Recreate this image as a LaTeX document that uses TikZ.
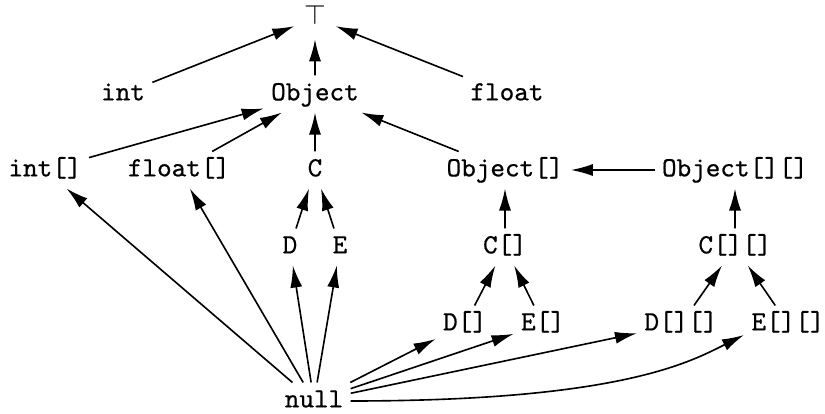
\documentclass[tikz,border=0pt]{standalone}
\usepackage{fontspec}
\usepackage{tikz}
\usetikzlibrary{arrows.meta}
\newfontfamily\codefont{Latin Modern Mono}[FakeBold=0.6]

\begin{document}
\begin{tikzpicture}[x=0.01517cm, y=-0.01517cm,
	every node/.style={font=\fontsize{10}{12}\selectfont\codefont, scale=1.2, text height=6.25pt, text depth=1.67pt, inner sep=2.5pt},
	sub/.style={line width=0.7pt, -{Latex[length=9.5pt,width=5.2pt]}}]
	\useasboundingbox (0,0) rectangle (825,414);
	\path (315,18) node[inner sep=1pt] (top){$\top$}
	(123,94) node (int){int}
	(315,94) node (obj){Object}
	(507,94) node (float){float}
	(45,170) node (inta){int[]}
	(179,170) node (floata){float[]}
	(315,170) node (c){C}
	(505,170) node (obja){Object[]}
	(735,170) node (objaa){Object[][]}
	(290,247) node (d){D}
	(340,247) node (e){E}
	(505,247) node (ca){C[]}
	(735,247) node (caa){C[][]}
	(465,324) node (da){D[]}
	(543,324) node (ea){E[]}
	(681,324) node (daa){D[][]}
	(788,324) node (eaa){E[][]}
	(314,401) node (null){null};
	
	\draw[sub, shorten >=3pt] (int) -- (top);
	\draw[sub, shorten >=3pt] (obj) -- (top);
	\draw[sub, shorten >=3pt] (float) -- (top);
	\draw[sub] (inta) -- (obj);
	\draw[sub] (floata) -- (obj);
	\draw[sub] (c) -- (obj);
	\draw[sub] (obja) -- (obj);
	\draw[sub] (objaa) -- (obja);
	\draw[sub] (d) -- (c);
	\draw[sub] (e) -- (c);
	\draw[sub] (ca) -- (obja);
	\draw[sub] (caa) -- (objaa);
	\draw[sub] (da) -- (ca);
	\draw[sub] (ea) -- (ca);
	\draw[sub] (daa) -- (caa);
	\draw[sub] (eaa) -- (caa);
	
	\draw[sub] (null) -- (inta);
	\draw[sub] (null) -- (floata);
	\draw[sub] (null) -- (d);
	\draw[sub] (null) -- (e);
	\draw[sub] (null) -- (da);
	\draw[sub] (null) -- (ea);
	\draw[sub] (null) -- (daa);
	\draw[sub] (null) .. controls (620,401) and (690,362) .. (eaa.-166);
\end{tikzpicture}
\end{document}
